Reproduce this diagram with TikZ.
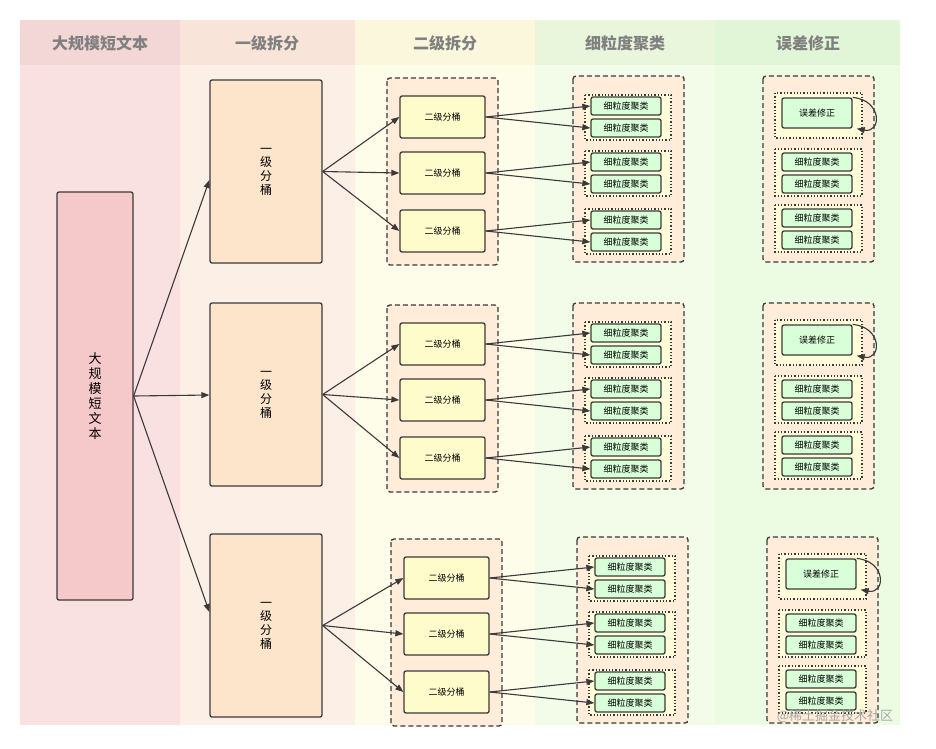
\documentclass[tikz,border=0pt]{standalone}
\usepackage{fontspec}
\setmainfont{Noto Sans CJK SC}
\usetikzlibrary{arrows.meta}
\definecolor{c1}{HTML}{F9E1E1}\definecolor{c2}{HTML}{FCEFE6}\definecolor{c3}{HTML}{FEFDE9}
\definecolor{c4}{HTML}{F2FCE9}\definecolor{c5}{HTML}{EBFCE2}
\definecolor{h1}{HTML}{F3D6D6}\definecolor{h2}{HTML}{F8E4D9}\definecolor{h3}{HTML}{FAF7DC}
\definecolor{h4}{HTML}{E9F6DC}\definecolor{h5}{HTML}{E1F6D6}
\definecolor{edge}{HTML}{3A3A3A}
\definecolor{rootc}{HTML}{F5C9C9}\definecolor{onec}{HTML}{FDE5CB}
\tikzset{
 box/.style={draw=edge,line width=1.3pt,rounded corners=2pt,inner sep=0pt,font=\fontsize{9}{10}\selectfont},
 big/.style={box,fill=#1},
 two/.style={box,fill=yellow!20,minimum width=85pt,minimum height=42pt},
 sm/.style={box,fill=green!15,minimum width=70pt,minimum height=18pt},
 err/.style={box,fill=green!15,minimum width=70pt,minimum height=30pt},
 dgrp/.style={draw=edge,dash pattern=on 5pt off 3pt,line width=1.3pt,fill=orange!15,rounded corners=3pt},
 dot/.style={draw=edge,dotted,line width=1.3pt,fill=yellow!15},
 arr/.style={draw=edge,line width=1.1pt,-{Triangle[length=8pt,width=6pt]}},
 hdr/.style={font=\fontsize{16}{18}\selectfont\bfseries,text=gray}
}
\begin{document}
\begin{tikzpicture}[x=1pt,y=-1pt]
\useasboundingbox (0,0) rectangle (936,748);
\fill[white] (0,0) rectangle (936,748);
\fill[c1] (20,20) rectangle (180,725);\fill[h1] (20,20) rectangle (180,65);
\fill[c2] (180,20) rectangle (355,725);\fill[h2] (180,20) rectangle (355,65);
\fill[c3] (355,20) rectangle (535,725);\fill[h3] (355,20) rectangle (535,65);
\fill[c4] (535,20) rectangle (715,725);\fill[h4] (535,20) rectangle (715,65);
\fill[c5] (715,20) rectangle (900,725);\fill[h5] (715,20) rectangle (900,65);
\node[hdr] (t1) at (100,43) {大规模短文本};
\node[hdr] (t2) at (267,43) {一级拆分};
\node[hdr] (t3) at (445,43) {二级拆分};
\node[hdr] (t4) at (625,43) {细粒度聚类};
\node[hdr] (t5) at (808,43) {误差修正};
\node[big=rootc,minimum width=76pt,minimum height=408pt,font=\fontsize{13}{17}\selectfont] (root) at (95,396) {\shortstack{大\\规\\模\\短\\文\\本}};
\foreach \g/\dy/\dx/\ay/\oy in {1/0/0/180/0,2/227/0/395/223,3/461/4/612/454}{
 \node[big=onec,minimum width=112pt,minimum height=183pt,font=\fontsize{12}{17}\selectfont] (one\g) at (266,{171.5+\oy}) {\shortstack{一\\级\\分\\桶}};
 \draw[arr] (root.east) -- (one\g.west |- 0,\ay);
 \draw[dgrp] ({387+\dx},{78+\dy}) rectangle ({498+\dx},{265+\dy});
 \draw[dgrp] ({573+\dx},{76+\dy}) rectangle ({684+\dx},{262+\dy});
 \draw[dgrp] ({763+\dx},{76+\dy}) rectangle ({874+\dx},{262+\dy});
 \foreach \k/\cy in {1/117,2/173,3/231}{
  \node[two] (two\g\k) at ({442.5+\dx},{\cy+\dy}) {二级分桶};
  \draw[arr] (one\g.east) -- (two\g\k.west);
  \draw[dot] ({585+\dx},{\cy-22+\dy}) rectangle ({671+\dx},{\cy+23+\dy});
  \node[sm] (a\g\k) at ({626+\dx},{\cy-11+\dy}) {细粒度聚类};
  \node[sm] (b\g\k) at ({626+\dx},{\cy+11+\dy}) {细粒度聚类};
  \draw[arr] (two\g\k.east) -- (a\g\k.west);
  \draw[arr] (two\g\k.east) -- (b\g\k.west);
 }
 \draw[dot] ({775+\dx},{93+\dy}) rectangle ({862+\dx},{138+\dy});
 \node[err] (e\g) at ({817+\dx},{113+\dy}) {误差修正};
 \draw[arr] (e\g.north east) .. controls +(30,3) and +(25,5) .. ([xshift=4pt]e\g.south east);
 \foreach \k/\cy in {2/173,3/229}{
  \draw[dot] ({775+\dx},{\cy-24+\dy}) rectangle ({862+\dx},{\cy+23+\dy});
  \node[sm] (c\g\k) at ({817+\dx},{\cy-11+\dy}) {细粒度聚类};
  \node[sm] (d\g\k) at ({817+\dx},{\cy+11+\dy}) {细粒度聚类};
 }
}
\node[text=gray!70,font=\fontsize{13}{15}\selectfont] (wm) at (835,716) {@稀土掘金技术社区};
\end{tikzpicture}
\end{document}
